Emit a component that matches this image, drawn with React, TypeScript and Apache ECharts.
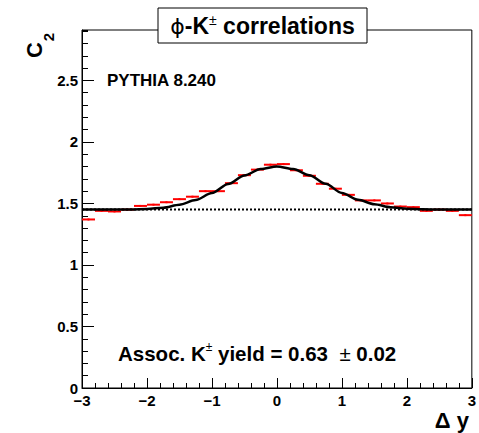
import React, { useEffect, useRef } from "react";
import * as echarts from "echarts";

// ---- data ----
const binCenters = [
  -2.9, -2.7, -2.5, -2.3, -2.1, -1.9, -1.7, -1.5, -1.3, -1.1,
  -0.9, -0.7, -0.5, -0.3, -0.1, 0.1, 0.3, 0.5, 0.7, 0.9,
  1.1, 1.3, 1.5, 1.7, 1.9, 2.1, 2.3, 2.5, 2.7, 2.9,
];
const c2Values = [
  1.37, 1.44, 1.435, 1.45, 1.48, 1.49, 1.51, 1.535, 1.555, 1.6,
  1.6, 1.665, 1.73, 1.775, 1.815, 1.82, 1.77, 1.725, 1.66, 1.62,
  1.57, 1.525, 1.525, 1.5, 1.475, 1.47, 1.44, 1.45, 1.44, 1.405,
];
const c2Errors = [
  0.008, 0.008, 0.008, 0.008, 0.008, 0.008, 0.008, 0.008, 0.008, 0.008,
  0.008, 0.008, 0.008, 0.008, 0.008, 0.008, 0.008, 0.008, 0.008, 0.008,
  0.008, 0.008, 0.008, 0.008, 0.008, 0.008, 0.008, 0.008, 0.008, 0.008,
];
const binHalfWidth = 0.1;

const fitX = [
  -3, -2.75, -2.5, -2.25, -2, -1.75, -1.5, -1.25, -1, -0.75, -0.5, -0.25, 0,
  0.25, 0.5, 0.75, 1, 1.25, 1.5, 1.75, 2, 2.25, 2.5, 2.75, 3,
];
const fitY = [
  1.45, 1.45, 1.45, 1.451, 1.455, 1.466, 1.49, 1.528, 1.585, 1.658, 1.728, 1.78, 1.8,
  1.78, 1.73, 1.66, 1.585, 1.53, 1.494, 1.47, 1.457, 1.452, 1.45, 1.45, 1.45,
];
const baselineX = [-3, 3];
const baselineY = [1.45, 1.45];

const xRange = [-3, 3];
const yRange = [0, 2.91];

const titleText = "{phi|ϕ}{b|-K}{sup|±}{b| correlations}";
const generatorText = "PYTHIA 8.240";
const yieldText = "{b|Assoc. K}{sup|±}{b| yield = 0.63  }{n|±}{b| 0.02}";

const FONT = "'Liberation Sans', Arial, Helvetica, sans-serif";

export default function App() {
  const ref = useRef<HTMLDivElement>(null);

  useEffect(() => {
    if (!ref.current) return;
    const chart = echarts.init(ref.current, undefined, { renderer: "svg" });

    const labelStyle = {
      fontFamily: FONT,
      fontWeight: "bold" as const,
      fontSize: 15,
      color: "#000",
    };

    chart.setOption({
      animation: false,
      backgroundColor: "#fff",
      grid: {
        left: 82,
        right: 7,
        top: 30,
        bottom: 45,
        show: true,
        borderColor: "#000",
        borderWidth: 1,
        backgroundColor: "transparent",
      },
      xAxis: {
        type: "value",
        min: xRange[0],
        max: xRange[1],
        interval: 1,
        axisLine: { show: true, onZero: false, lineStyle: { color: "#000", width: 1 } },
        axisTick: { show: true, inside: true, length: 10, lineStyle: { color: "#000", width: 1 } },
        minorTick: { show: true, splitNumber: 5, length: 5, lineStyle: { color: "#000", width: 1 } },
        splitLine: { show: false },
        minorSplitLine: { show: false },
        axisLabel: {
          ...labelStyle,
          margin: 5,
          formatter: (v: number) => String(v).replace("-", "\u2212"),
        },
      },
      yAxis: [
        {
          type: "value",
          min: yRange[0],
          max: yRange[1],
          interval: 0.5,
          axisLine: { show: true, onZero: false, lineStyle: { color: "#000", width: 1 } },
          axisTick: { show: true, inside: true, length: 12, lineStyle: { color: "#000", width: 1 } },
          splitLine: { show: false },
          axisLabel: { ...labelStyle, margin: 4, showMaxLabel: false },
        },
        {
          type: "value",
          min: yRange[0],
          max: yRange[1],
          interval: 0.1,
          position: "left",
          axisLine: { show: false, onZero: false },
          axisTick: { show: true, inside: true, length: 6, lineStyle: { color: "#000", width: 1 } },
          splitLine: { show: false },
          axisLabel: { show: false },
        },
      ],
      series: [
        {
          type: "custom",
          name: "data",
          xAxisIndex: 0,
          yAxisIndex: 0,
          encode: { x: 0, y: 1 },
          data: binCenters.map((x, i) => [x, c2Values[i], c2Errors[i]]),
          renderItem: (_params: any, api: any) => {
            const x = api.value(0);
            const y = api.value(1);
            const e = api.value(2);
            const l = api.coord([x - binHalfWidth, y]);
            const r = api.coord([x + binHalfWidth, y]);
            const t = api.coord([x, y + e]);
            const b = api.coord([x, y - e]);
            return {
              type: "group",
              children: [
                {
                  type: "line",
                  shape: { x1: l[0], y1: l[1], x2: r[0], y2: r[1] },
                  style: { stroke: "#ff0000", lineWidth: 2 },
                },
                {
                  type: "line",
                  shape: { x1: t[0], y1: t[1], x2: b[0], y2: b[1] },
                  style: { stroke: "#ff0000", lineWidth: 2 },
                },
              ],
            };
          },
          z: 2,
        },
        {
          type: "line",
          name: "baseline",
          data: baselineX.map((x, i) => [x, baselineY[i]]),
          symbol: "none",
          lineStyle: { color: "#000", width: 2, type: [2, 2] },
          z: 3,
        },
        {
          type: "line",
          name: "fit",
          data: fitX.map((x, i) => [x, fitY[i]]),
          symbol: "none",
          smooth: 0.3,
          smoothMonotone: "x",
          lineStyle: { color: "#000", width: 2.5 },
          z: 4,
        },
      ],
      graphic: [
        {
          type: "rect",
          z: 100,
          shape: { x: 158, y: 8, width: 209, height: 35 },
          style: { fill: "#fff", stroke: "#000", lineWidth: 1 },
        },
        {
          type: "text",
          z: 101,
          x: 262.5,
          y: 26,
          style: {
            text: titleText,
            align: "center",
            verticalAlign: "middle",
            textAlign: "center",
            textVerticalAlign: "middle",
            fill: "#000",
            rich: {
              phi: { fontFamily: "'DejaVu Sans', sans-serif", fontSize: 22, fontWeight: "normal", lineHeight: 26, fill: "#000" },
              b: { fontFamily: FONT, fontSize: 23, fontWeight: "bold", lineHeight: 26, fill: "#000" },
              sup: { fontFamily: FONT, fontSize: 14, fontWeight: "normal", lineHeight: 14, verticalAlign: "top", fill: "#000" },
            },
          },
        },
        {
          type: "text",
          z: 101,
          x: 107,
          y: 80,
          style: {
            text: generatorText,
            align: "left",
            verticalAlign: "middle",
            textAlign: "left",
            textVerticalAlign: "middle",
            fontFamily: FONT,
            fontSize: 17,
            fontWeight: "bold",
            fill: "#000",
          },
        },
        {
          type: "text",
          z: 101,
          x: 118,
          y: 353,
          style: {
            text: yieldText,
            align: "left",
            verticalAlign: "middle",
            textAlign: "left",
            textVerticalAlign: "middle",
            fill: "#000",
            rich: {
              b: { fontFamily: FONT, fontSize: 20.5, fontWeight: "bold", lineHeight: 24, fill: "#000" },
              n: { fontFamily: FONT, fontSize: 20.5, fontWeight: "normal", lineHeight: 24, fill: "#000" },
              sup: { fontFamily: FONT, fontSize: 12, fontWeight: "normal", lineHeight: 12, verticalAlign: "top", fill: "#000" },
            },
          },
        },
        {
          type: "text",
          z: 101,
          x: 34.5,
          y: 50,
          rotation: Math.PI / 2,
          style: {
            text: "C",
            align: "center",
            verticalAlign: "middle",
            textAlign: "center",
            textVerticalAlign: "middle",
            fontFamily: FONT,
            fontSize: 22,
            fontWeight: "bold",
            fill: "#000",
          },
        },
        {
          type: "text",
          z: 101,
          x: 48,
          y: 37,
          rotation: Math.PI / 2,
          style: {
            text: "2",
            align: "center",
            verticalAlign: "middle",
            textAlign: "center",
            textVerticalAlign: "middle",
            fontFamily: FONT,
            fontSize: 15,
            fontWeight: "bold",
            fill: "#000",
          },
        },
        {
          type: "text",
          z: 101,
          x: 469,
          y: 420,
          style: {
            text: "Δ y",
            align: "right",
            verticalAlign: "middle",
            textAlign: "right",
            textVerticalAlign: "middle",
            fontFamily: FONT,
            fontSize: 22,
            fontWeight: "bold",
            fill: "#000",
          },
        },
      ],
    });

    return () => {
      chart.dispose();
    };
  }, []);

  return (
    <div
      ref={ref}
      style={{ position: "fixed", left: 0, top: 0, width: 479, height: 433, background: "#fff" }}
    />
  );
}
